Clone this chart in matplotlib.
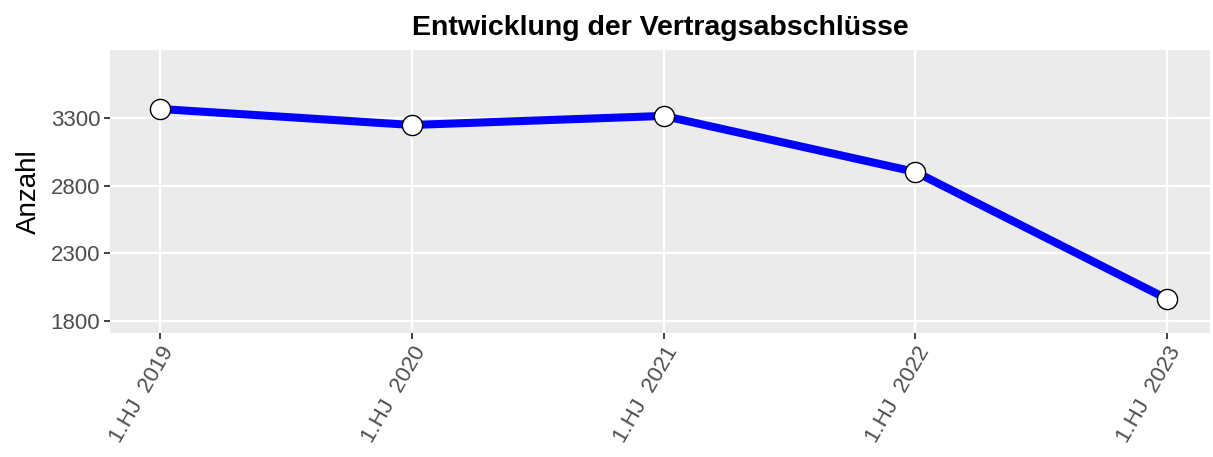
import matplotlib.pyplot as plt
import numpy as np

plt.rcParams['font.family'] = ['Liberation Sans', 'DejaVu Sans']

# Daten
halbjahre = ['1.HJ  2019', '1.HJ  2020', '1.HJ  2021', '1.HJ  2022', '1.HJ  2023']
anzahl = [3366, 3248, 3315, 2901, 1963]

fig = plt.figure(figsize=(12.13, 4.57), dpi=100)
ax = fig.add_axes([0.0907, 0.2713, 0.9068, 0.6193])
ax.set_facecolor('#EBEBEB')

x = np.arange(len(halbjahre))
ax.plot(x, anzahl, color='#0000FF', linewidth=5.8, solid_capstyle='butt', zorder=3)
ax.plot(x, anzahl, linestyle='none', marker='o', markersize=14.5,
        markerfacecolor='white', markeredgecolor='black', markeredgewidth=1, zorder=4)

ax.set_xlim(-0.2, 4.17)
ax.set_ylim(1711, 3802)
ax.set_yticks([1800, 2300, 2800, 3300])
ax.set_xticks(x)
ax.set_xticklabels(halbjahre, rotation=60, ha='right', va='top', rotation_mode='anchor')

ax.grid(True, color='white', linewidth=1.6)
ax.set_axisbelow(True)
for s in ax.spines.values():
    s.set_visible(False)
ax.tick_params(colors='#333333', labelcolor='#4D4D4D', labelsize=16, length=4, width=1.3, pad=3)

ax.set_ylabel('Anzahl', fontsize=20, color='black', labelpad=6)
ax.set_title('Entwicklung der Vertragsabschlüsse', fontsize=20.5, fontweight='bold', pad=11)

plt.savefig('out.png', dpi=100)
